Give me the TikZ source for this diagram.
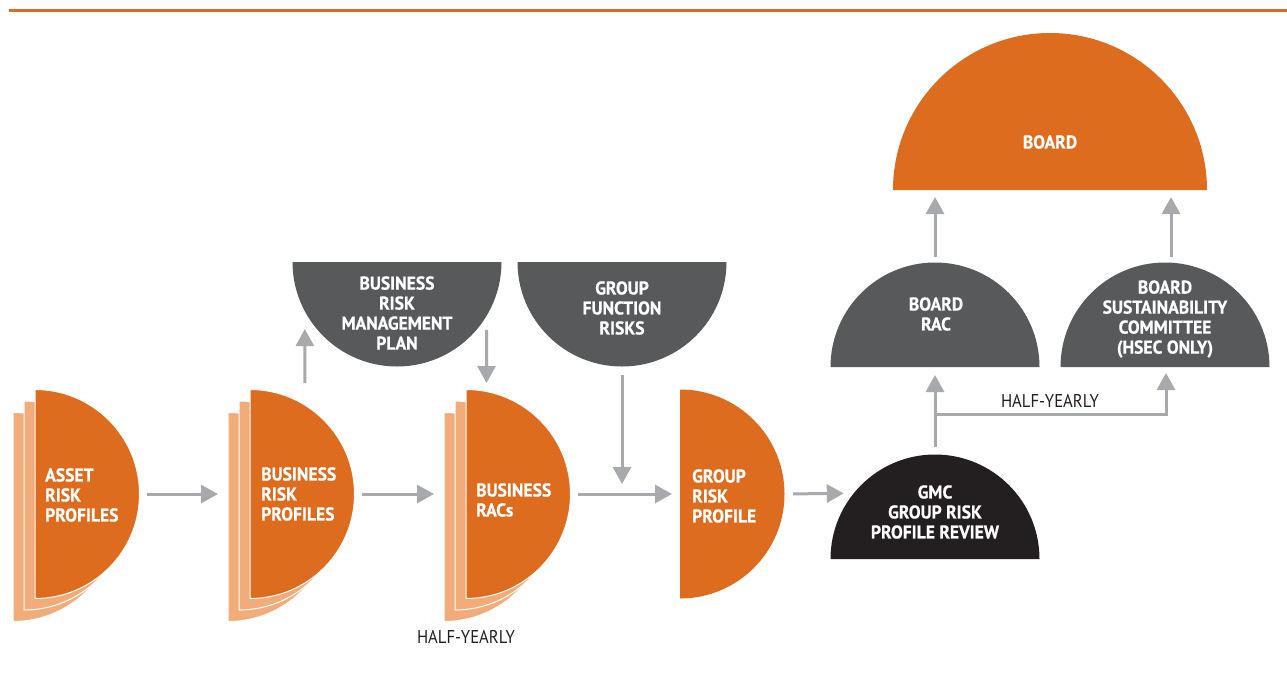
\documentclass[tikz,border=0pt]{standalone}
\usepackage{fontspec}
\newfontfamily\lblfont{PT Sans}[FakeStretch=0.9,BoldFeatures={FakeStretch=0.95,FakeBold=0.6}]
\usetikzlibrary{arrows.meta,calc}
\definecolor{rmorange}{RGB}{221,108,30}
\definecolor{rmlight}{RGB}{241,172,122}
\definecolor{rmgrey}{RGB}{88,89,91}
\definecolor{rmblack}{RGB}{35,31,32}
\definecolor{rmarrow}{RGB}{167,169,172}
\tikzset{
  slot/.style={circle, minimum size=209pt, inner sep=0pt, outer sep=0pt},
  layer/.style={fill=rmlight, draw=white, line width=1pt},
  front/.style={fill=rmorange, draw=white, line width=1pt},
  intext/.style={text=white, font=\lblfont\bfseries\fontsize{18.5}{20}\selectfont, inner sep=0pt},
  note/.style={text=rmblack, font=\lblfont\fontsize{18.5}{20}\selectfont, inner sep=0pt},
  flow/.style={draw=rmarrow, line width=3pt, -{Triangle[length=17pt,width=18pt]}},
}
\begin{document}
\begin{tikzpicture}[x=1pt,y=-1pt]
\useasboundingbox (0,0) rectangle (1287,691);
\draw[rmorange, line width=2.5pt] (9,10.5) -- (1287,10.5);

% profiles, drawn as stacks of half discs
\node[slot] (assetrp) at (35,494) {};
\node[slot] (busrp) at (250,494) {};
\node[slot] (busrac) at (466,494) {};
\node[slot] (grprp) at (680,494) {};
\foreach \n in {assetrp,busrp,busrac}{
  \filldraw[layer] ([shift={(-22,23)}]\n.north) arc[start angle=90,end angle=-90,radius=104.5pt] -- cycle;
  \filldraw[layer] ([shift={(-11,11.5)}]\n.north) arc[start angle=90,end angle=-90,radius=104.5pt] -- cycle;
  \filldraw[front] (\n.north) arc[start angle=90,end angle=-90,radius=104.5pt] -- cycle;
}
\fill[rmorange] (grprp.north) arc[start angle=90,end angle=-90,radius=104.5pt] -- cycle;

% inputs from above
\node[slot] (busrmp) at (397,262) {};
\node[slot] (grpfn) at (622,262) {};
\fill[rmgrey] (busrmp.west) arc[start angle=180,end angle=360,radius=104.5pt] -- cycle;
\fill[rmgrey] (grpfn.west) arc[start angle=180,end angle=360,radius=104.5pt] -- cycle;

% review and board level
\node[slot] (gmc) at (935,559) {};
\node[slot] (brdrac) at (935,367) {};
\node[slot] (brdsc) at (1165,367) {};
\node[slot, minimum size=314pt] (board) at (1050,190) {};
\fill[rmblack] (gmc.west) arc[start angle=180,end angle=0,radius=104.5pt] -- cycle;
\fill[rmgrey] (brdrac.west) arc[start angle=180,end angle=0,radius=104.5pt] -- cycle;
\fill[rmgrey] (brdsc.west) arc[start angle=180,end angle=0,radius=104.5pt] -- cycle;
\fill[rmorange] (board.west) arc[start angle=180,end angle=0,radius=157pt] -- cycle;

% labels
\node[intext, align=left, anchor=west] (assetrp-t) at (45,495) {ASSET\\RISK\\PROFILES};
\node[intext, align=left, anchor=west] (busrp-t) at (261,494) {BUSINESS\\RISK\\PROFILES};
\node[intext, align=left, anchor=west] (busrac-t) at (476,500) {BUSINESS\\RACs};
\node[intext, align=left, anchor=west] (grprp-t) at (692,496) {GROUP\\RISK\\PROFILE};
\node[intext, align=center] (busrmp-t) at (397,313) {BUSINESS\\RISK\\MANAGEMENT\\PLAN};
\node[intext, align=center] (grpfn-t) at (622,308) {GROUP\\FUNCTION\\RISKS};
\node[intext, align=center] (gmc-t) at (935,512) {GMC\\GROUP RISK\\PROFILE REVIEW};
\node[intext, align=center] (brdrac-t) at (936,314) {BOARD\\RAC};
\node[intext, align=center] (brdsc-t) at (1165,319) {BOARD\\SUSTAINABILITY\\COMMITTEE\\(HSEC ONLY)};
\node[intext] (board-t) at (1050,142) {BOARD};
\node[note] (busrac-n) at (466,637) {HALF-YEARLY};
\node[note] (brdsc-n) at (1050,401) {HALF-YEARLY};

% flow
\draw[flow, shorten <=7.5pt, shorten >=32pt] (assetrp.east) -- (busrp.center);
\draw[flow, shorten <=7.5pt, shorten >=32pt] (busrp.east) -- (busrac.center);
\draw[flow, shorten <=7pt, shorten >=8pt] (busrac.east) -- (grprp.center);
\draw[flow, shorten <=8.5pt, shorten >=10pt] (grprp.east) -- (gmc.141.5);
\draw[flow, shorten <=6.5pt, shorten >=18pt] ([xshift=55pt]busrp.north) -- (busrmp.208.3);
\draw[flow, shorten <=14pt, shorten >=6.5pt] (busrmp.-31.1) -- ([xshift=20.5pt]busrac.north);
\draw[flow, shorten <=8.5pt, shorten >=10pt] (grpfn.south) -- (grpfn.south |- busrac.east);
\draw[flow, shorten <=7.5pt, shorten >=8pt] (gmc.north) -- (brdrac.center);
\draw[flow, shorten >=6pt] ($(gmc.north)!.46!(brdrac.center)$) -| ([xshift=1pt]brdsc.center);
\draw[flow, shorten <=5.5pt, shorten >=7pt] (brdrac.north) -- (brdrac.north |- board.center);
\draw[flow, shorten <=5.5pt, shorten >=7pt] ([xshift=6pt]brdsc.north) -- ([xshift=6pt]brdsc.north |- board.center);
\end{tikzpicture}
\end{document}
